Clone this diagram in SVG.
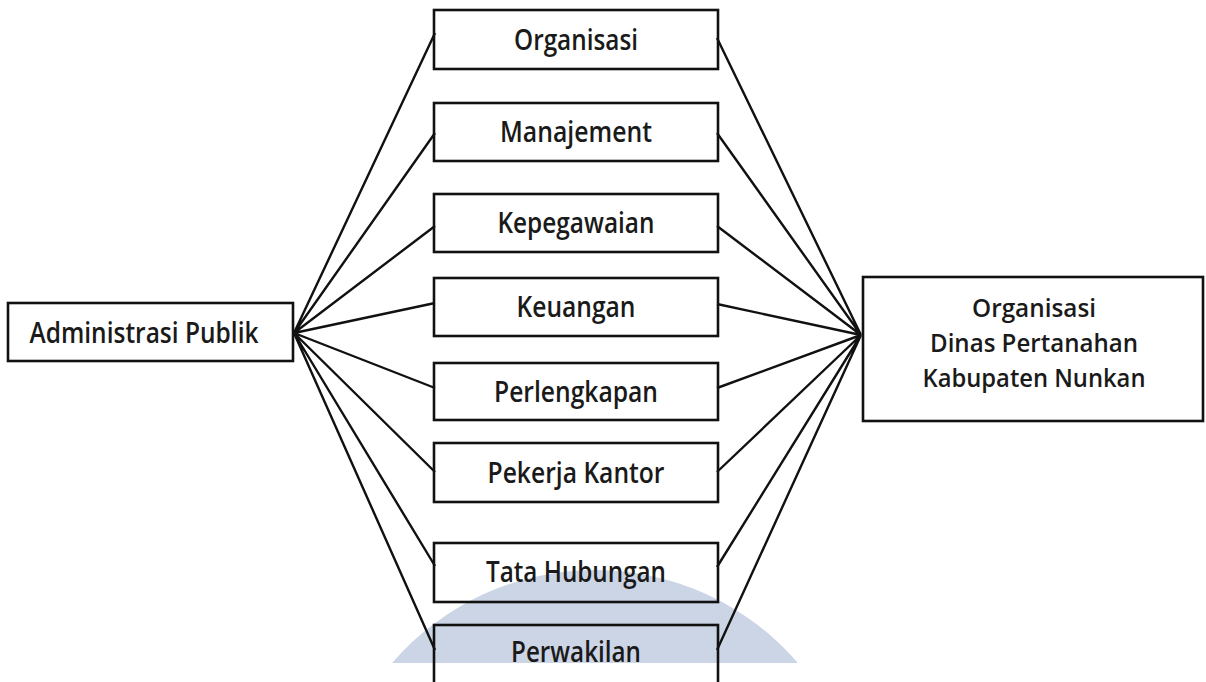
<svg xmlns="http://www.w3.org/2000/svg" width="1206" height="682" viewBox="0 0 1206 682">
<style>
.box{fill:none;stroke:#111;stroke-width:2.6}
.lbl{font-family:"Open Sans","Noto Sans",sans-serif;font-weight:600;font-size:28px;fill:#1a1a1a;text-anchor:middle}
.sm{font-size:26px}
.ln{stroke:#111;stroke-width:2.4;fill:none}
</style>
<rect width="1206" height="682" fill="#ffffff"/>
<path id="watermark" d="M392,663 A268,268 0 0 1 798,663 Z" fill="#ccd5e5"/>
<g id="connectors">
<path class="ln" d="M294,333 L435,33 M294,333 L435,133 M294,333 L435,226 M294,333 L435,303 M294,333 L435,388 M294,333 L435,472 M294,333 L435,566 M294,333 L435,650"/>
<path class="ln" d="M861,335 L717,38 M861,335 L717,133 M861,335 L717,226 M861,335 L717,304 M861,335 L717,388 M861,335 L717,472 M861,335 L717,567 M861,335 L717,650"/>
</g>
<g id="admin">
<rect class="box" x="8" y="303" width="285" height="58"/>
<text class="lbl" x="144" y="343" textLength="229" lengthAdjust="spacingAndGlyphs">Administrasi Publik</text>
</g>
<g id="organisasi">
<rect class="box" x="434" y="10" width="284" height="59"/>
<text class="lbl" x="576" y="50" textLength="124" lengthAdjust="spacingAndGlyphs">Organisasi</text>
</g>
<g id="manajement">
<rect class="box" x="434" y="103" width="284" height="58"/>
<text class="lbl" x="576" y="142" textLength="152" lengthAdjust="spacingAndGlyphs">Manajement</text>
</g>
<g id="kepegawaian">
<rect class="box" x="434" y="194" width="284" height="58"/>
<text class="lbl" x="576" y="233" textLength="157" lengthAdjust="spacingAndGlyphs">Kepegawaian</text>
</g>
<g id="keuangan">
<rect class="box" x="434" y="278" width="284" height="58"/>
<text class="lbl" x="576" y="317" textLength="119" lengthAdjust="spacingAndGlyphs">Keuangan</text>
</g>
<g id="perlengkapan">
<rect class="box" x="434" y="363" width="284" height="57"/>
<text class="lbl" x="576" y="402" textLength="164" lengthAdjust="spacingAndGlyphs">Perlengkapan</text>
</g>
<g id="pekerja">
<rect class="box" x="434" y="443" width="284" height="59"/>
<text class="lbl" x="576" y="483" textLength="177" lengthAdjust="spacingAndGlyphs">Pekerja Kantor</text>
</g>
<g id="tata">
<rect class="box" x="434" y="543" width="284" height="59"/>
<text class="lbl" x="576" y="582" textLength="180" lengthAdjust="spacingAndGlyphs">Tata Hubungan</text>
</g>
<g id="perwakilan">
<rect class="box" x="434" y="625" width="284" height="62"/>
<text class="lbl" x="576" y="662" textLength="130" lengthAdjust="spacingAndGlyphs">Perwakilan</text>
</g>
<g id="dinas">
<rect class="box" x="863" y="277" width="340" height="144"/>
<text class="lbl sm" x="1034" y="317" textLength="124" lengthAdjust="spacingAndGlyphs">Organisasi</text>
<text class="lbl sm" x="1034" y="352" textLength="208" lengthAdjust="spacingAndGlyphs">Dinas Pertanahan</text>
<text class="lbl sm" x="1034" y="387" textLength="223" lengthAdjust="spacingAndGlyphs">Kabupaten Nunkan</text>
</g>
</svg>
